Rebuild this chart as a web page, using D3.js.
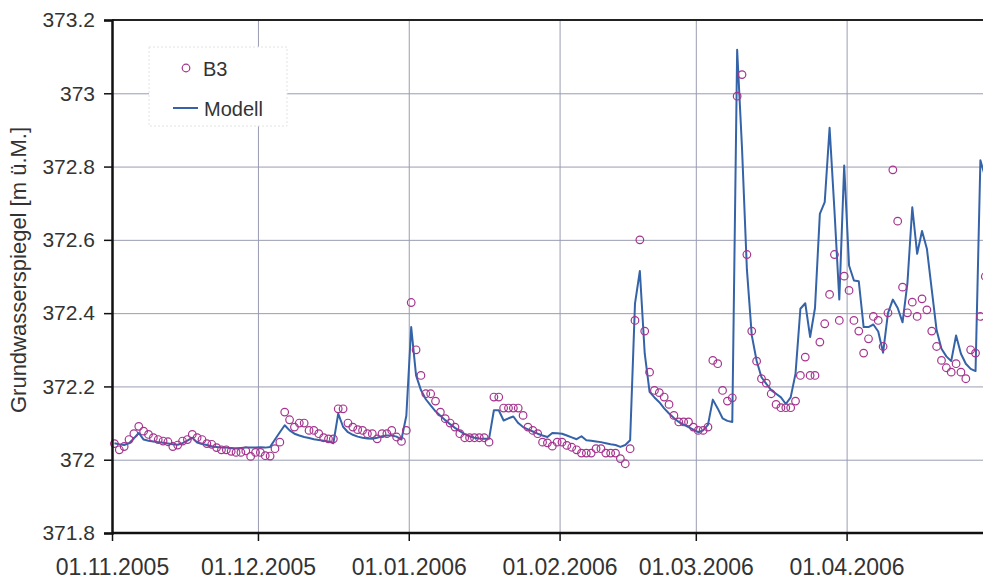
<!DOCTYPE html>
<html>
<head>
<meta charset="utf-8">
<script src="https://cdn.jsdelivr.net/npm/d3@7"></script>
<style>
  html, body { margin: 0; padding: 0; background: #fff; }
  svg { display: block; font-family: "Liberation Sans", Arial, sans-serif; }
</style>
</head>
<body>
<svg id="chart" width="983" height="580"></svg>
<script>
// daily readings, first value = 01.11.2005
const startDate = Date.UTC(2005, 10, 1);

// B3 observations (m ü.M.), one per day, by month
const b3Nov = [372.044, 372.027, 372.036, 372.055, 372.071, 372.091, 372.078, 372.069, 372.06, 372.055,
               372.051, 372.049, 372.036, 372.04, 372.051, 372.055, 372.069, 372.06, 372.055, 372.044,
               372.042, 372.033, 372.027, 372.027, 372.023, 372.02, 372.02, 372.024, 372.009, 372.02];
const b3Dec = [372.02, 372.011, 372.01, 372.03, 372.048, 372.13, 372.109, 372.089, 372.1, 372.1,
               372.08, 372.08, 372.071, 372.06, 372.057, 372.057, 372.139, 372.139, 372.1, 372.089,
               372.082, 372.08, 372.071, 372.071, 372.057, 372.071, 372.071, 372.08, 372.062, 372.05, 372.08];
const b3Jan = [372.429, 372.3, 372.23, 372.18, 372.18, 372.16, 372.13, 372.112, 372.1, 372.089,
               372.071, 372.06, 372.06, 372.06, 372.06, 372.06, 372.048, 372.171, 372.171, 372.141,
               372.141, 372.141, 372.141, 372.121, 372.089, 372.08, 372.071, 372.048, 372.046, 372.037, 372.048];
const b3Feb = [372.048, 372.039, 372.034, 372.027, 372.018, 372.018, 372.018, 372.03, 372.03, 372.018,
               372.018, 372.018, 372.003, 371.989, 372.03, 372.38, 372.6, 372.351, 372.239, 372.189,
               372.183, 372.171, 372.151, 372.121, 372.103, 372.103, 372.103, 372.089];
const b3Mar = [372.08, 372.08, 372.089, 372.271, 372.262, 372.189, 372.16, 372.169, 372.992, 373.051,
               372.56, 372.351, 372.269, 372.221, 372.209, 372.18, 372.151, 372.142, 372.142, 372.142,
               372.16, 372.23, 372.28, 372.23, 372.23, 372.321, 372.371, 372.451, 372.56, 372.38, 372.501];
const b3Apr = [372.462, 372.38, 372.351, 372.291, 372.33, 372.391, 372.38, 372.309, 372.401, 372.791,
               372.651, 372.471, 372.401, 372.43, 372.391, 372.439, 372.409, 372.351, 372.309, 372.271,
               372.251, 372.239, 372.262, 372.239, 372.221, 372.3, 372.291, 372.391, 372.5];

// Modell, one value per day, by month
const modNov = [372.045, 372.042, 372.04, 372.045, 372.058, 372.073, 372.055, 372.052, 372.05, 372.048,
                372.046, 372.044, 372.042, 372.041, 372.045, 372.052, 372.06, 372.047, 372.043, 372.04,
                372.037, 372.035, 372.033, 372.033, 372.031, 372.031, 372.032, 372.033, 372.033, 372.033];
const modDec = [372.034, 372.033, 372.035, 372.055, 372.075, 372.094, 372.08, 372.071, 372.066, 372.062,
                372.059, 372.056, 372.054, 372.052, 372.05, 372.045, 372.126, 372.09, 372.075, 372.068,
                372.063, 372.06, 372.058, 372.057, 372.06, 372.064, 372.066, 372.066, 372.063, 372.055, 372.12];
const modJan = [372.362, 372.23, 372.19, 372.165, 372.148, 372.132, 372.12, 372.108, 372.097, 372.087,
                372.078, 372.07, 372.064, 372.06, 372.058, 372.057, 372.057, 372.135, 372.135, 372.107,
                372.113, 372.118, 372.1, 372.089, 372.083, 372.077, 372.071, 372.066, 372.062, 372.073, 372.072];
const modFeb = [372.071, 372.066, 372.061, 372.056, 372.064, 372.053, 372.052, 372.05, 372.048, 372.045,
                372.042, 372.04, 372.035, 372.04, 372.053, 372.426, 372.515, 372.29, 372.185, 372.17,
                372.157, 372.14, 372.126, 372.114, 372.103, 372.096, 372.089, 372.082];
const modMar = [372.075, 372.08, 372.095, 372.164, 372.14, 372.113, 372.106, 372.103, 373.119, 372.85,
                372.52, 372.34, 372.27, 372.225, 372.207, 372.19, 372.18, 372.17, 372.152, 372.17,
                372.235, 372.412, 372.427, 372.335, 372.414, 372.671, 372.703, 372.906, 372.68, 372.437, 372.803];
const modApr = [372.53, 372.489, 372.487, 372.362, 372.362, 372.369, 372.35, 372.292, 372.4, 372.437,
                372.414, 372.375, 372.482, 372.689, 372.562, 372.624, 372.576, 372.464, 372.353, 372.303,
                372.282, 372.269, 372.339, 372.289, 372.262, 372.248, 372.242, 372.817, 372.771];

const yTicks = [371.8, 372, 372.2, 372.4, 372.6, 372.8, 373, 373.2];
const xTickLabels = ['01.11.2005', '01.12.2005', '01.01.2006', '01.02.2006', '01.03.2006', '01.04.2006'];

const DAY = 864e5;
const b3 = [...b3Nov, ...b3Dec, ...b3Jan, ...b3Feb, ...b3Mar, ...b3Apr];
const modell = [...modNov, ...modDec, ...modJan, ...modFeb, ...modMar, ...modApr];
// values plotted at midday
const toPoints = arr => arr.map((v, i) => ({date: new Date(startDate + (i + 0.5) * DAY), value: v}));
const parseTick = s => { const [d, m, y] = s.split('.').map(Number); return new Date(Date.UTC(y, m - 1, d)); };
const xTicks = xTickLabels.map(parseTick);

const plotLeft = 112, plotTop = 20, plotBottom = 533, plotRight = 983;
const svg = d3.select('#chart');

// axis runs to 01.05.2006, picture is cut at the right edge
const x = d3.scaleUtc()
  .domain([new Date(startDate), new Date(Date.UTC(2006, 4, 1))])
  .range([plotLeft, plotLeft + 181 * 4.865]);
const y = d3.scaleLinear().domain([371.8, 373.2]).range([plotBottom, plotTop]);

// grid
svg.append('g')
  .attr('transform', `translate(0,${plotBottom})`)
  .call(d3.axisBottom(x).tickValues(xTicks).tickSize(-(plotBottom - plotTop)).tickFormat(''))
  .call(g => g.select('.domain').remove())
  .call(g => g.selectAll('line').attr('stroke', '#9a9db2').attr('stroke-width', 1));
svg.append('g')
  .attr('transform', `translate(${plotLeft},0)`)
  .call(d3.axisLeft(y).tickValues(yTicks).tickSize(-(plotRight - plotLeft)).tickFormat(''))
  .call(g => g.select('.domain').remove())
  .call(g => g.selectAll('line').attr('stroke', '#9a9db2').attr('stroke-width', 1));

// model line
svg.append('path')
  .datum(toPoints(modell))
  .attr('fill', 'none')
  .attr('stroke', '#3563a8')
  .attr('stroke-width', 2)
  .attr('stroke-linejoin', 'round')
  .attr('d', d3.line().x(d => x(d.date)).y(d => y(d.value)));

// observations
svg.append('g')
  .selectAll('circle')
  .data(toPoints(b3))
  .join('circle')
  .attr('cx', d => x(d.date))
  .attr('cy', d => y(d.value))
  .attr('r', 3.8)
  .attr('fill', 'none')
  .attr('stroke', '#a5348e')
  .attr('stroke-width', 1.2);

// frame
svg.append('line').attr('x1', plotLeft).attr('x2', plotRight).attr('y1', plotTop).attr('y2', plotTop)
  .attr('stroke', '#222').attr('stroke-width', 2.2);

// axes
svg.append('g')
  .attr('transform', `translate(${plotLeft},0)`)
  .call(d3.axisLeft(y).tickValues(yTicks).tickSize(8).tickPadding(9).tickFormat(d3.format('')))
  .call(g => g.select('.domain').attr('stroke', '#111').attr('stroke-width', 2.5))
  .call(g => g.selectAll('line').attr('stroke', '#111').attr('stroke-width', 1.5))
  .call(g => g.selectAll('text').attr('font-size', 21).attr('fill', '#333').attr('font-family', null));
svg.append('g')
  .attr('transform', `translate(0,${plotBottom})`)
  .call(d3.axisBottom(x).tickValues(xTicks).tickSize(8).tickPadding(18)
    .tickFormat((d, i) => xTickLabels[i]))
  .call(g => g.select('.domain').attr('stroke', '#111').attr('stroke-width', 2.5).attr('d', `M${plotLeft},0H${plotRight}`))
  .call(g => g.selectAll('line').attr('stroke', '#111').attr('stroke-width', 1.5))
  .call(g => g.selectAll('text').attr('font-size', 23).attr('fill', '#333').attr('font-family', null));

// y axis title
svg.append('text')
  .attr('transform', 'translate(26,270) rotate(-90)')
  .attr('text-anchor', 'middle')
  .attr('font-size', 22)
  .attr('fill', '#333')
  .text('Grundwasserspiegel [m ü.M.]');

// legend
const legend = svg.append('g');
legend.append('rect')
  .attr('x', 149).attr('y', 47).attr('width', 138).attr('height', 79)
  .attr('fill', '#fff').attr('stroke', '#e2e2e2').attr('stroke-dasharray', '2,2');
legend.append('circle')
  .attr('cx', 186).attr('cy', 68).attr('r', 3.8)
  .attr('fill', 'none').attr('stroke', '#a5348e').attr('stroke-width', 1.2);
legend.append('text').attr('x', 203).attr('y', 76).attr('font-size', 20).attr('fill', '#333').text('B3');
legend.append('line')
  .attr('x1', 173).attr('x2', 198).attr('y1', 108).attr('y2', 108)
  .attr('stroke', '#3563a8').attr('stroke-width', 2);
legend.append('text').attr('x', 204).attr('y', 116).attr('font-size', 20).attr('fill', '#333').text('Modell');
</script>
</body>
</html>
